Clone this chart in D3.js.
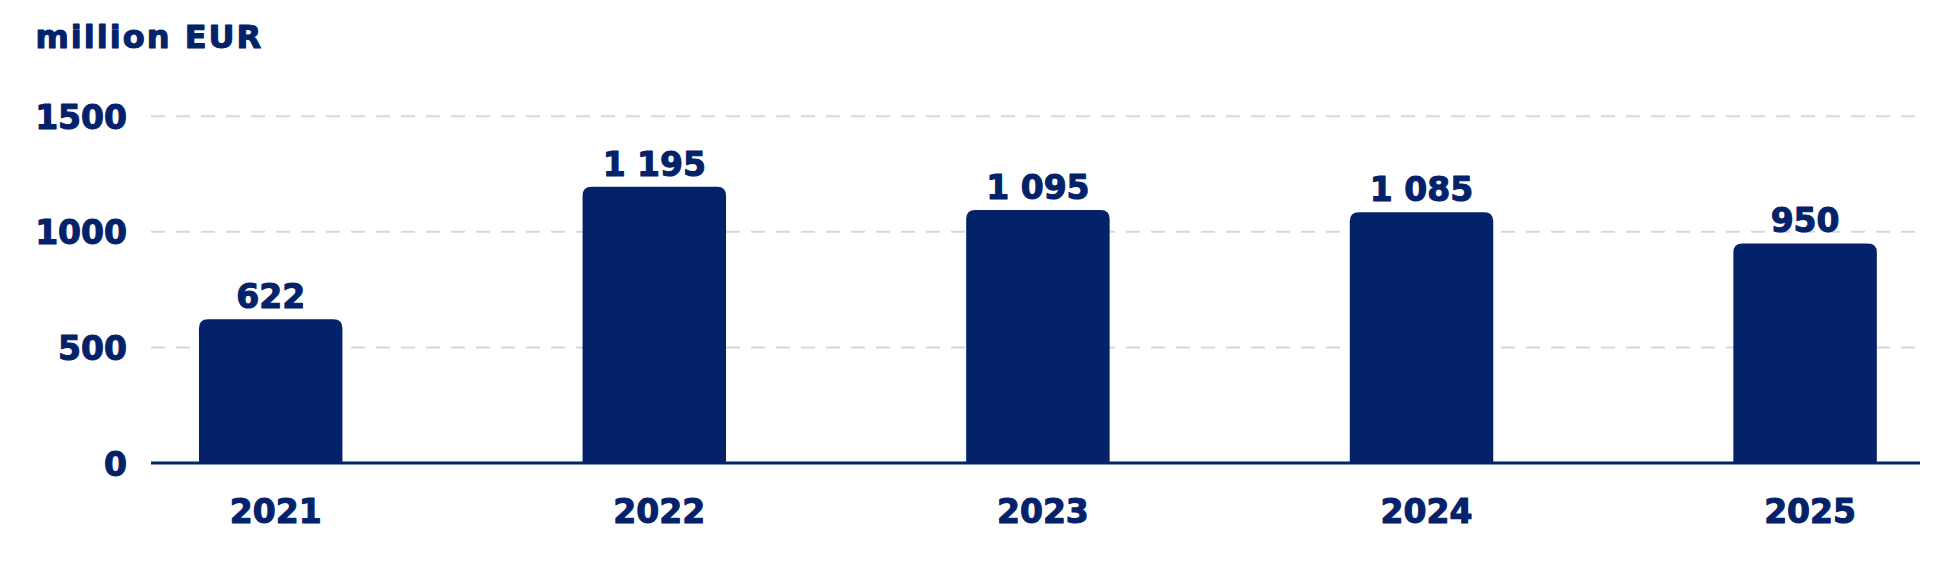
<!DOCTYPE html>
<html>
<head>
<meta charset="utf-8">
<script src="https://cdn.jsdelivr.net/npm/d3@7"></script>
<style>
  html, body { margin: 0; padding: 0; background: #ffffff; }
  svg { display: block; }
  text { font-family: "DejaVu Sans", Verdana, sans-serif; font-weight: bold; fill: #03226a;
         stroke: #03226a; stroke-width: 1.1px; stroke-linejoin: round; }
</style>
</head>
<body>
<svg id="chart" width="1937" height="579"></svg>
<script>
// ---- data ----
const categories = ["2021", "2022", "2023", "2024", "2025"];
const values = [622, 1195, 1095, 1085, 950];
const valueLabels = ["622", "1 195", "1 095", "1 085", "950"];
const yTicks = [0, 500, 1000, 1500];
const yTickLabels = ["0", "500", "1000", "1500"];
const unitLabel = "million EUR";

// ---- layout ----
const navy = "#03226a";
const gridColor = "#d3d8e8";
const axisX0 = 151, axisX1 = 1920;

const svg = d3.select("#chart");

const y = d3.scaleLinear().domain([0, 1500]).range([463, 116.3]);
const x = d3.scaleBand().domain(categories)
  .range([78.9, 1996.9])
  .paddingInner(0.626)
  .paddingOuter(0.313);

// title
svg.append("text")
  .attr("x", 35.5).attr("y", 48)
  .style("font-size", "32px")
  .style("letter-spacing", "2px")
  .text(unitLabel);

// gridlines
svg.append("g").selectAll("line")
  .data(yTicks.filter(d => d > 0))
  .join("line")
  .attr("x1", axisX0).attr("x2", 1916)
  .attr("y1", d => y(d)).attr("y2", d => y(d))
  .attr("stroke", gridColor)
  .attr("stroke-width", 2)
  .attr("stroke-dasharray", "14,11");

// y tick labels
svg.append("g").selectAll("text")
  .data(yTicks)
  .join("text")
  .attr("x", 127)
  .attr("y", d => y(d) + 12.5)
  .attr("text-anchor", "end")
  .style("font-size", "33px")
  .text((d, i) => yTickLabels[i]);

// bars with rounded top corners
const r = 9;
function barPath(d, i) {
  const x0 = x(categories[i]);
  const x1 = x0 + x.bandwidth();
  const yt = y(d);
  const yb = y(0);
  return `M${x0},${yb}L${x0},${yt + r}Q${x0},${yt} ${x0 + r},${yt}` +
         `L${x1 - r},${yt}Q${x1},${yt} ${x1},${yt + r}L${x1},${yb}Z`;
}
svg.append("g").selectAll("path")
  .data(values)
  .join("path")
  .attr("d", barPath)
  .attr("fill", navy);

// value labels
svg.append("g").selectAll("text")
  .data(values)
  .join("text")
  .attr("x", (d, i) => x(categories[i]) + x.bandwidth() / 2)
  .attr("y", d => y(d) - 11)
  .attr("text-anchor", "middle")
  .style("font-size", "33px")
  .text((d, i) => valueLabels[i]);

// x axis line
svg.append("line")
  .attr("x1", axisX0).attr("x2", axisX1)
  .attr("y1", y(0)).attr("y2", y(0))
  .attr("stroke", navy)
  .attr("stroke-width", 3);

// x tick labels
svg.append("g").selectAll("text")
  .data(categories)
  .join("text")
  .attr("x", d => x(d) + x.bandwidth() / 2 + 5)
  .attr("y", 523)
  .attr("text-anchor", "middle")
  .style("font-size", "33px")
  .text(d => d);
</script>
</body>
</html>
